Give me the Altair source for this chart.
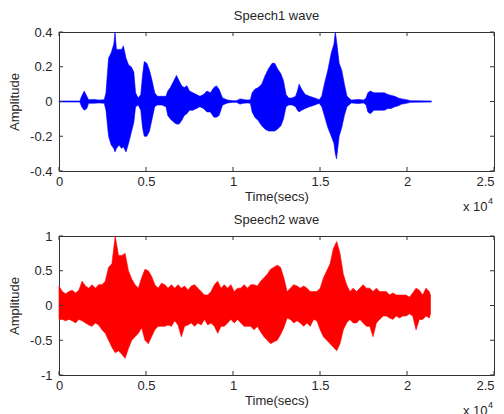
import altair as alt
import pandas as pd

FONT = "Liberation Sans"
TXT = "#262626"
W, H = 435, 139

x_ticks = [0, 5000, 10000, 15000, 20000, 25000]
y1_ticks = [-0.4, -0.2, 0, 0.2, 0.4]
y2_ticks = [-1, -0.5, 0, 0.5, 1]
titles = ["Speech1 wave", "Speech2 wave"]
x_title = "Time(secs)"
y_title = "Amplitude"
exp_base = ["x 10"]
exp_pow = ["4"]

# ---- Speech1: envelope (upper / lower) of the blue waveform, sample index ----
t1 = [0, 1200, 1300, 1450, 1600, 1700, 2000, 2300, 2600, 2700,
      2850, 3000, 3150, 3220, 3300, 3450, 3600, 3700, 3850, 4000,
      4150, 4300, 4400, 4550, 4700, 4800, 4900, 5050, 5200, 5350,
      5500, 5650, 5900, 6150, 6250, 6400, 6600, 6750, 6900, 7050,
      7200, 7350, 7500, 7700, 7900, 8100, 8300, 8500, 8700, 8900,
      9050, 9200, 9400, 9700, 10000, 10200, 10400, 10600, 10800, 11000,
      11100, 11250, 11450, 11650, 11850, 12050, 12250, 12400, 12550, 12750,
      12900, 13050, 13200, 13400, 13600, 13700, 13800, 13950, 14150, 14400,
      14700, 14950, 15100, 15250, 15450, 15650, 15800, 15880, 15950, 16100,
      16250, 16400, 16550, 16800, 17000, 17200, 17500, 17650, 17750, 17900,
      18100, 18300, 18500, 18700, 18900, 19100, 19300, 19500, 19700, 19900,
      20200, 21400]
up1 = [0.003, 0.003, 0.03, 0.06, 0.03, 0.01, 0.012, 0.008, 0.01, 0.05,
       0.25, 0.28, 0.33, 0.40, 0.30, 0.30, 0.30, 0.32, 0.25, 0.21,
       0.20, 0.17, 0.05, 0.02, 0.04, 0.15, 0.23, 0.22, 0.18, 0.12,
       0.05, 0.03, 0.03, 0.03, 0.06, 0.08, 0.12, 0.15, 0.12, 0.09,
       0.08, 0.09, 0.06, 0.05, 0.04, 0.03, 0.04, 0.06, 0.05, 0.08,
       0.09, 0.07, 0.02, 0.008, 0.005, 0.005, 0.015, 0.012, 0.008, 0.01,
       0.05, 0.07, 0.08, 0.10, 0.15, 0.19, 0.22, 0.22, 0.19, 0.16,
       0.12, 0.04, 0.02, 0.02, 0.03, 0.06, 0.10, 0.07, 0.04, 0.03,
       0.02, 0.01, 0.03, 0.10, 0.18, 0.28, 0.33, 0.40, 0.35, 0.22,
       0.18, 0.10, 0.03, 0.008, 0.01, 0.012, 0.008, 0.02, 0.05, 0.06,
       0.05, 0.05, 0.05, 0.05, 0.04, 0.035, 0.03, 0.02, 0.015, 0.012,
       0.005, 0.003]
lo1 = [-0.003, -0.003, -0.03, -0.05, -0.04, -0.01, -0.01, -0.008, -0.01, -0.05,
       -0.20, -0.25, -0.27, -0.29, -0.27, -0.25, -0.27, -0.26, -0.29, -0.24,
       -0.18, -0.12, -0.03, -0.02, -0.05, -0.15, -0.20, -0.20, -0.17, -0.10,
       -0.03, -0.02, -0.02, -0.03, -0.08, -0.10, -0.12, -0.13, -0.13, -0.11,
       -0.08, -0.07, -0.05, -0.05, -0.04, -0.03, -0.04, -0.06, -0.06, -0.09,
       -0.09, -0.08, -0.02, -0.008, -0.005, -0.005, -0.015, -0.01, -0.008, -0.01,
       -0.06, -0.09, -0.11, -0.14, -0.16, -0.17, -0.17, -0.17, -0.16, -0.14,
       -0.10, -0.03, -0.02, -0.02, -0.03, -0.05, -0.06, -0.05, -0.04, -0.03,
       -0.02, -0.01, -0.03, -0.08, -0.15, -0.20, -0.24, -0.30, -0.33, -0.20,
       -0.15, -0.08, -0.03, -0.008, -0.01, -0.012, -0.008, -0.02, -0.06, -0.07,
       -0.05, -0.05, -0.05, -0.05, -0.04, -0.04, -0.03, -0.025, -0.015, -0.012,
       -0.005, -0.003]

# ---- Speech2: envelope of the red waveform ----
t2 = [0, 190, 380, 570, 760, 950, 1140, 1330, 1520, 1710,
      1900, 2090, 2280, 2470, 2660, 2850, 3040, 3230, 3420, 3610,
      3800, 3990, 4180, 4370, 4560, 4750, 4940, 5130, 5320, 5510,
      5700, 5890, 6080, 6270, 6460, 6650, 6840, 7030, 7220, 7410,
      7600, 7790, 7980, 8170, 8360, 8550, 8740, 8930, 9120, 9310,
      9500, 9690, 9880, 10070, 10260, 10450, 10640, 10830, 11020, 11210,
      11400, 11590, 11780, 11970, 12160, 12350, 12540, 12730, 12920, 13110,
      13300, 13490, 13680, 13870, 14060, 14250, 14440, 14630, 14820, 15010,
      15200, 15390, 15580, 15770, 15960, 16150, 16340, 16530, 16720, 16910,
      17100, 17290, 17480, 17670, 17860, 18050, 18240, 18430, 18620, 18810,
      19000, 19190, 19380, 19570, 19760, 19950, 20140, 20330, 20520, 20710,
      20900, 21090, 21280, 21350]
up2 = [0.28, 0.20, 0.17, 0.20, 0.22, 0.18, 0.22, 0.35, 0.28, 0.25,
       0.30, 0.25, 0.30, 0.30, 0.35, 0.55, 0.60, 1.00, 0.72, 0.72,
       0.75, 0.50, 0.38, 0.30, 0.25, 0.40, 0.52, 0.50, 0.42, 0.30,
       0.25, 0.32, 0.30, 0.25, 0.30, 0.25, 0.30, 0.25, 0.28, 0.22,
       0.28, 0.30, 0.25, 0.20, 0.15, 0.15, 0.20, 0.30, 0.35, 0.25,
       0.30, 0.25, 0.30, 0.20, 0.25, 0.25, 0.30, 0.25, 0.30, 0.30,
       0.28, 0.35, 0.40, 0.45, 0.52, 0.55, 0.58, 0.55, 0.40, 0.20,
       0.25, 0.30, 0.28, 0.25, 0.28, 0.25, 0.20, 0.20, 0.20, 0.25,
       0.40, 0.50, 0.60, 0.82, 0.92, 0.75, 0.45, 0.30, 0.20, 0.25,
       0.20, 0.25, 0.30, 0.25, 0.25, 0.20, 0.25, 0.20, 0.20, 0.20,
       0.15, 0.18, 0.15, 0.15, 0.15, 0.15, 0.12, 0.18, 0.25, 0.22,
       0.15, 0.25, 0.20, 0.15]
lo2 = [-0.20, -0.20, -0.22, -0.20, -0.22, -0.25, -0.20, -0.22, -0.25, -0.28,
       -0.30, -0.25, -0.28, -0.35, -0.40, -0.50, -0.60, -0.68, -0.65, -0.70,
       -0.76, -0.62, -0.50, -0.45, -0.40, -0.32, -0.50, -0.55, -0.45, -0.35,
       -0.30, -0.30, -0.30, -0.28, -0.30, -0.22, -0.28, -0.45, -0.30, -0.28,
       -0.25, -0.30, -0.25, -0.28, -0.20, -0.28, -0.25, -0.30, -0.40, -0.30,
       -0.30, -0.25, -0.20, -0.25, -0.20, -0.25, -0.30, -0.30, -0.30, -0.35,
       -0.30, -0.38, -0.45, -0.50, -0.55, -0.52, -0.50, -0.42, -0.32, -0.18,
       -0.20, -0.25, -0.22, -0.25, -0.30, -0.25, -0.30, -0.20, -0.22, -0.35,
       -0.45, -0.50, -0.55, -0.60, -0.65, -0.55, -0.35, -0.25, -0.20, -0.25,
       -0.25, -0.20, -0.25, -0.30, -0.30, -0.45, -0.25, -0.20, -0.15, -0.15,
       -0.18, -0.20, -0.15, -0.18, -0.15, -0.15, -0.12, -0.15, -0.35, -0.20,
       -0.20, -0.15, -0.18, -0.12]


def panel(t, up, lo, color, ydom, yticks, title):
    df = pd.DataFrame({"t": t, "up": up, "lo": lo})
    xs = alt.Scale(domain=[0, 25000], nice=False, zero=False)
    ys = alt.Scale(domain=ydom, nice=False, zero=False)
    ax_common = dict(ticks=False, domain=False, grid=False,
                     labelFont=FONT, labelFontSize=13, labelColor=TXT,
                     titleFont=FONT, titleFontSize=13, titleColor=TXT,
                     titleFontWeight="normal")
    xax = alt.Axis(
        values=x_ticks, labelExpr="'' + datum.value / 10000",
        labelAlign={"condition": {"test": "datum.value >= 25000", "value": "right"},
                    "value": "center"},
        title=x_title, labelPadding=4, titlePadding=2, labelFlush=False,
        **ax_common)
    yax = alt.Axis(
        values=yticks, labelExpr="'' + datum.value",
        title=y_title, labelPadding=7, titlePadding=8, **ax_common)
    area = alt.Chart(df).mark_area(
        color=color, stroke=color, strokeWidth=0.6, opacity=1
    ).encode(
        x=alt.X("t:Q", scale=xs, axis=xax),
        y=alt.Y("up:Q", scale=ys, axis=yax),
        y2="lo:Q",
    )
    xt = pd.DataFrame({"t": x_ticks})
    yt = pd.DataFrame({"up": yticks})
    tick_style = dict(color="#333333", strokeWidth=1)
    xtb = alt.Chart(xt).mark_rule(**tick_style).encode(
        x=alt.X("t:Q", scale=xs, axis=xax), y=alt.value(H - 4), y2=alt.value(H))
    xtt = alt.Chart(xt).mark_rule(**tick_style).encode(
        x=alt.X("t:Q", scale=xs, axis=xax), y=alt.value(0), y2=alt.value(4))
    ytl = alt.Chart(yt).mark_rule(**tick_style).encode(
        y=alt.Y("up:Q", scale=ys, axis=yax), x=alt.value(0), x2=alt.value(4))
    ytr = alt.Chart(yt).mark_rule(**tick_style).encode(
        y=alt.Y("up:Q", scale=ys, axis=yax), x=alt.value(W - 4), x2=alt.value(W))
    e1 = alt.Chart(pd.DataFrame({"s": exp_base})).mark_text(
        align="left", baseline="alphabetic", font=FONT, fontSize=13, color=TXT
    ).encode(text="s:N", x=alt.value(W - 31), y=alt.value(H + 40))
    e2 = alt.Chart(pd.DataFrame({"s": exp_pow})).mark_text(
        align="left", baseline="alphabetic", font=FONT, fontSize=9, color=TXT
    ).encode(text="s:N", x=alt.value(W - 6), y=alt.value(H + 33))
    return alt.layer(area, xtb, xtt, ytl, ytr, e1, e2).properties(
        width=W, height=H,
        title=alt.TitleParams(title, font=FONT, fontSize=13, fontWeight="normal",
                              color=TXT, offset=3),
    )


top = panel(t1, up1, lo1, "#0000ff", [-0.4, 0.4], y1_ticks, titles[0])
bot = panel(t2, up2, lo2, "#ff0000", [-1, 1], y2_ticks, titles[1])

chart = alt.vconcat(top, bot, spacing=-2).properties(
    padding={"left": 0, "top": 1, "right": 0, "bottom": 0},
    background="white",
).configure_view(
    stroke="#333333", strokeWidth=1
)

chart.save("out.html", embed_options={"renderer": "svg", "actions": False})
